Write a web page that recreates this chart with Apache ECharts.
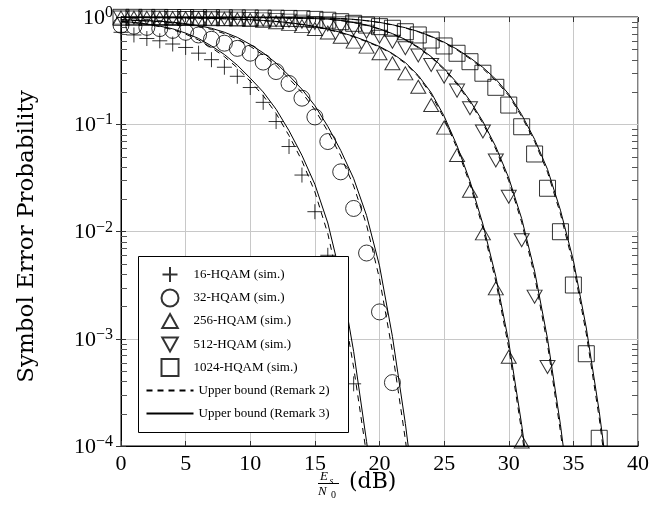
<!DOCTYPE html>
<html>
<head>
<meta charset="utf-8">
<script src="https://cdn.jsdelivr.net/npm/echarts@6/dist/echarts.min.js"></script>
<style>
  html, body { margin: 0; padding: 0; background: #fff; }
  #chart { width: 664px; height: 529px; }
</style>
</head>
<body>
<div id="chart"></div>
<script>
// Es/N0 in dB, shared by every series (index i -> snr[i])
var snr = [0, 1, 2, 3, 4, 5, 6, 7, 8, 9, 10, 11, 12, 13, 14, 15, 16, 17, 18, 19,
           20, 21, 22, 23, 24, 25, 26, 27, 28, 29, 30, 31, 32, 33, 34, 35, 36, 37, 38];

// simulated SER (markers)
var ser16 = [0.72, 0.68, 0.63, 0.60, 0.56, 0.52, 0.46, 0.40, 0.34, 0.28, 0.22, 0.16, 0.106, 0.062,
             0.0336, 0.0153, 0.0060, 0.0018, 0.00038];
var ser32 = [0.84, 0.82, 0.80, 0.78, 0.75, 0.72, 0.68, 0.62, 0.57, 0.51, 0.46, 0.38, 0.31, 0.24,
             0.175, 0.117, 0.069, 0.036, 0.0164, 0.0063, 0.00178, 0.00039];
var ser256 = [0.986, 0.984, 0.982, 0.98, 0.977, 0.975, 0.97, 0.966, 0.96, 0.95, 0.94, 0.92, 0.895,
              0.863, 0.822, 0.773, 0.716, 0.655, 0.589, 0.529, 0.459, 0.37, 0.298, 0.224, 0.151,
              0.093, 0.0516, 0.024, 0.0096, 0.00295, 0.00068, 0.00011];
var ser512 = [0.991, 0.989, 0.986, 0.984, 0.982, 0.98, 0.977, 0.975, 0.97, 0.966, 0.96, 0.95, 0.94,
              0.925, 0.906, 0.881, 0.851, 0.817, 0.776, 0.73, 0.655, 0.589, 0.511, 0.437, 0.357,
              0.278, 0.206, 0.141, 0.0856, 0.046, 0.0211, 0.0083, 0.00247, 0.000545];
var ser1024 = [0.993, 0.993, 0.991, 0.991, 0.989, 0.989, 0.986, 0.986, 0.984, 0.982, 0.98, 0.977,
               0.975, 0.97, 0.964, 0.95, 0.933, 0.904, 0.873, 0.841, 0.813, 0.785, 0.729, 0.68,
               0.61, 0.537, 0.459, 0.383, 0.299, 0.221, 0.151, 0.0948, 0.0528, 0.0253, 0.00995,
               0.00317, 0.000725, 0.000118];

// upper bound, Remark 2 (dashed)
var ub2_16 = [0.908, 0.885, 0.853, 0.813, 0.762, 0.692, 0.611, 0.518, 0.427, 0.336, 0.252, 0.185,
              0.126, 0.0783, 0.0457, 0.0234, 0.00955, 0.00275, 0.00054, 8.3e-5, 1.0e-5];
var ub2_32 = [0.94, 0.929, 0.916, 0.904, 0.885, 0.855, 0.815, 0.767, 0.70, 0.624, 0.533, 0.443,
              0.352, 0.267, 0.197, 0.137, 0.0861, 0.0506, 0.0266, 0.0115, 0.00363, 0.00076,
              0.000115, 1.26e-5];
var ub2_256 = [0.991, 0.989, 0.986, 0.984, 0.981, 0.978, 0.974, 0.97, 0.963, 0.953, 0.942, 0.926,
               0.906, 0.88, 0.849, 0.81, 0.764, 0.711, 0.653, 0.588, 0.525, 0.45, 0.369, 0.278,
               0.19, 0.113, 0.0597, 0.0276, 0.0108, 0.00342, 0.00082, 0.000137, 1.74e-5];
var ub2_512 = [0.995, 0.995, 0.994, 0.994, 0.993, 0.993, 0.992, 0.991, 0.99, 0.989, 0.987, 0.985,
               0.982, 0.977, 0.972, 0.965, 0.953, 0.926, 0.887, 0.836, 0.771, 0.694, 0.61, 0.517,
               0.419, 0.323, 0.236, 0.16, 0.102, 0.0586, 0.0297, 0.0122, 0.00384, 0.00088,
               0.000136, 1.5e-5];
var ub2_1024 = [0.998, 0.997, 0.997, 0.996, 0.996, 0.995, 0.995, 0.994, 0.993, 0.992, 0.991, 0.99,
                0.988, 0.986, 0.983, 0.981, 0.977, 0.966, 0.948, 0.922, 0.888, 0.843, 0.789, 0.727,
                0.654, 0.574, 0.492, 0.408, 0.33, 0.254, 0.185, 0.118, 0.0691, 0.0357, 0.0146,
                0.00485, 0.00111, 0.000182, 2.1e-5];

// upper bound, Remark 3 (solid)
var ub3_16 = [0.912, 0.891, 0.861, 0.822, 0.776, 0.708, 0.631, 0.537, 0.447, 0.355, 0.269, 0.20,
              0.138, 0.0871, 0.0513, 0.0275, 0.012, 0.0038, 0.00076, 0.00011, 1.4e-5];
var ub3_32 = [0.944, 0.933, 0.923, 0.912, 0.895, 0.867, 0.83, 0.785, 0.721, 0.646, 0.555, 0.463,
              0.372, 0.284, 0.212, 0.149, 0.0955, 0.057, 0.0312, 0.0141, 0.00479, 0.00105,
              0.000162, 1.8e-5];
var ub3_256 = [0.991, 0.989, 0.986, 0.984, 0.982, 0.979, 0.975, 0.971, 0.964, 0.955, 0.944, 0.929,
               0.91, 0.885, 0.855, 0.817, 0.771, 0.719, 0.661, 0.596, 0.531, 0.457, 0.376, 0.285,
               0.197, 0.119, 0.0631, 0.0295, 0.0117, 0.0038, 0.00093, 0.000158, 2.0e-5];
var ub3_512 = [0.995, 0.995, 0.994, 0.994, 0.993, 0.993, 0.992, 0.991, 0.99, 0.989, 0.987, 0.985,
               0.982, 0.978, 0.973, 0.966, 0.955, 0.929, 0.891, 0.841, 0.776, 0.70, 0.617, 0.525,
               0.427, 0.331, 0.243, 0.166, 0.106, 0.0617, 0.0316, 0.0132, 0.00427, 0.001,
               0.000158, 1.8e-5];
var ub3_1024 = [0.998, 0.997, 0.997, 0.996, 0.996, 0.995, 0.995, 0.994, 0.993, 0.992, 0.991, 0.99,
                0.988, 0.986, 0.984, 0.982, 0.979, 0.968, 0.951, 0.925, 0.891, 0.847, 0.794, 0.733,
                0.661, 0.582, 0.501, 0.417, 0.339, 0.263, 0.191, 0.123, 0.0724, 0.038, 0.0158,
                0.00537, 0.00126, 0.00021, 2.5e-5];

// log axis minor ticks: 2..9 x 10^k
var minorTicks = [];
for (var k = -4; k < 0; k++) {
    for (var m = 2; m <= 9; m++) {
        minorTicks.push(m * Math.pow(10, k));
    }
}

var serif = '"Liberation Serif", "Times New Roman", serif';
var NAME2 = 'Upper bound (Remark 2)';
var NAME3 = 'Upper bound (Remark 3)';

var PLUS = 'path://M0,5L10,5M5,0L5,10';
var TRI_UP = 'path://M5,0L10,9L0,9Z';
var TRI_DOWN = 'path://M0,0L10,0L5,9Z';
var SQUARE = 'path://M0,0L10,0L10,10L0,10Z';

function pairs(ys) {
    return ys.map(function (y, i) { return [snr[i], y]; });
}

var markerStyle = {
    color: 'rgba(0,0,0,0)',
    borderColor: '#000',
    borderWidth: 1
};

function simSeries(name, ys, symbol, size) {
    return {
        name: name,
        type: 'scatter',
        data: pairs(ys),
        symbol: symbol,
        symbolSize: size,
        itemStyle: markerStyle,
        z: 4
    };
}

function boundSeries(name, ys, dashed) {
    return {
        name: name,
        type: 'line',
        data: pairs(ys),
        symbol: 'none',
        showSymbol: false,
        lineStyle: {color: '#000', width: 1, type: dashed ? [6, 5] : 'solid'},
        itemStyle: {color: '#000'},
        z: 3
    };
}

var series = [
    simSeries('16-HQAM (sim.)', ser16, PLUS, 15),
    simSeries('32-HQAM (sim.)', ser32, 'circle', 16),
    simSeries('256-HQAM (sim.)', ser256, TRI_UP, [15, 13]),
    simSeries('512-HQAM (sim.)', ser512, TRI_DOWN, [15, 13]),
    simSeries('1024-HQAM (sim.)', ser1024, SQUARE, 16),
    boundSeries(NAME2, ub2_16, true),
    boundSeries(NAME2, ub2_32, true),
    boundSeries(NAME2, ub2_256, true),
    boundSeries(NAME2, ub2_512, true),
    boundSeries(NAME2, ub2_1024, true),
    boundSeries(NAME3, ub3_16, false),
    boundSeries(NAME3, ub3_32, false),
    boundSeries(NAME3, ub3_256, false),
    boundSeries(NAME3, ub3_512, false),
    boundSeries(NAME3, ub3_1024, false),
    {
        name: 'minor',
        type: 'custom',
        silent: true,
        data: minorTicks.map(function (v) { return [0, v]; }),
        renderItem: function (params, api) {
            var v = api.value(1);
            var pl = api.coord([0, v]);
            var pr = api.coord([40, v]);
            var y = Math.round(pl[1]) + 0.5;
            return {
                type: 'group',
                children: [
                    {type: 'line', shape: {x1: pl[0], y1: y, x2: pl[0] + 6, y2: y},
                     style: {stroke: '#555', lineWidth: 1}},
                    {type: 'line', shape: {x1: pr[0] - 6, y1: y, x2: pr[0], y2: y},
                     style: {stroke: '#555', lineWidth: 1}}
                ]
            };
        },
        z: 2
    }
];

// one legend row per entry so the rows sit at even steps inside one framed box
// sw = drawn icon width (legend box is placed by its drawn content)
var legendRows = [
    {name: '16-HQAM (sim.)', y: 273.5, w: 37, h: 15, sw: 15},
    {name: '32-HQAM (sim.)', y: 297, w: 37, h: 17, sw: 17},
    {name: '256-HQAM (sim.)', y: 320, w: 37, h: 14, sw: 15.5},
    {name: '512-HQAM (sim.)', y: 343.5, w: 37, h: 14, sw: 15.5},
    {name: '1024-HQAM (sim.)', y: 366.5, w: 37, h: 17, sw: 17},
    {name: NAME2, y: 391, w: 47, h: 14, sw: 47, line: true},
    {name: NAME3, y: 414, w: 47, h: 14, sw: 47, line: true}
];

var legends = legendRows.map(function (r) {
    var item = {name: r.name};
    if (r.line) {
        item.itemStyle = {opacity: 0};
    }
    return {
        data: [item],
        orient: 'vertical',
        left: 169 - r.sw / 2,
        top: r.y - r.h / 2,
        itemWidth: r.w, itemHeight: r.h,
        padding: 0,
        selectedMode: false,
        z: 60,
        textStyle: {fontFamily: serif, fontSize: 13, color: '#000'}
    };
});

var option = {
    animation: false,
    backgroundColor: '#fff',
    grid: {
        left: 121, top: 17, width: 517, height: 429,
        show: true, borderColor: '#000', borderWidth: 1,
        outerBoundsMode: 'none'
    },
    legend: legends,
    xAxis: [{
        type: 'value', min: 0, max: 40, interval: 5,
        axisLine: {show: true, lineStyle: {color: '#000'}},
        axisTick: {show: true, inside: true, length: 5, lineStyle: {color: '#333'}},
        axisLabel: {fontFamily: serif, fontSize: 22, color: '#000', margin: 7},
        splitLine: {show: true, lineStyle: {color: '#c8c8c8', width: 1}}
    }, {
        type: 'value', min: 0, max: 40, interval: 5, position: 'top',
        axisLine: {show: false},
        axisTick: {show: true, inside: true, length: 5, lineStyle: {color: '#333'}},
        axisLabel: {show: false},
        splitLine: {show: false}
    }],
    yAxis: [{
        type: 'log', logBase: 10, min: 1e-4, max: 1, interval: 1,
        name: 'Symbol Error Probability',
        nameLocation: 'middle', nameGap: 82,
        nameTextStyle: {fontFamily: '"DejaVu Serif", serif', fontSize: 23, color: '#000',
                        padding: [0, 10, 0, 0]},
        axisLine: {show: true, lineStyle: {color: '#000'}},
        axisTick: {show: true, inside: true, length: 5, lineStyle: {color: '#333'}},
        axisLabel: {
            margin: 8,
            formatter: function (v) {
                var e = Math.round(Math.log10(v));
                var s = e < 0 ? '\u2212' + (-e) : '' + e;
                return '{b|10}{s|' + s + '}';
            },
            rich: {
                b: {fontFamily: serif, fontSize: 22, color: '#000', lineHeight: 24, verticalAlign: 'bottom'},
                s: {fontFamily: serif, fontSize: 16, color: '#000', lineHeight: 16, verticalAlign: 'top'}
            }
        },
        splitLine: {show: true, lineStyle: {color: '#c8c8c8', width: 1}}
    }, {
        type: 'log', logBase: 10, min: 1e-4, max: 1, interval: 1, position: 'right',
        axisLine: {show: false},
        axisTick: {show: true, inside: true, length: 5, lineStyle: {color: '#333'}},
        axisLabel: {show: false},
        splitLine: {show: false}
    }],
    graphic: [
        {type: 'rect', z: 50, silent: true,
         shape: {x: 138.5, y: 256.5, width: 210, height: 176},
         style: {fill: '#fff', stroke: '#000', lineWidth: 1}},
        {type: 'text', x: 320, y: 470, silent: true,
         style: {text: 'E', fontFamily: serif, fontStyle: 'italic', fontSize: 13, fill: '#000'}},
        {type: 'text', x: 329.5, y: 476, silent: true,
         style: {text: 's', fontFamily: serif, fontStyle: 'italic', fontSize: 10, fill: '#000'}},
        {type: 'line', silent: true, shape: {x1: 318, y1: 483.5, x2: 339, y2: 483.5},
         style: {stroke: '#000', lineWidth: 1}},
        {type: 'text', x: 318, y: 485, silent: true,
         style: {text: 'N', fontFamily: serif, fontStyle: 'italic', fontSize: 13, fill: '#000'}},
        {type: 'text', x: 331, y: 490, silent: true,
         style: {text: '0', fontFamily: serif, fontSize: 10, fill: '#000'}},
        {type: 'text', x: 349, y: 471, silent: true,
         style: {text: '(dB)', fontFamily: '"DejaVu Serif", serif', fontSize: 22, fill: '#000'}}
    ],
    series: series
};

var chart = echarts.init(document.getElementById('chart'));
chart.setOption(option);
</script>
</body>
</html>
